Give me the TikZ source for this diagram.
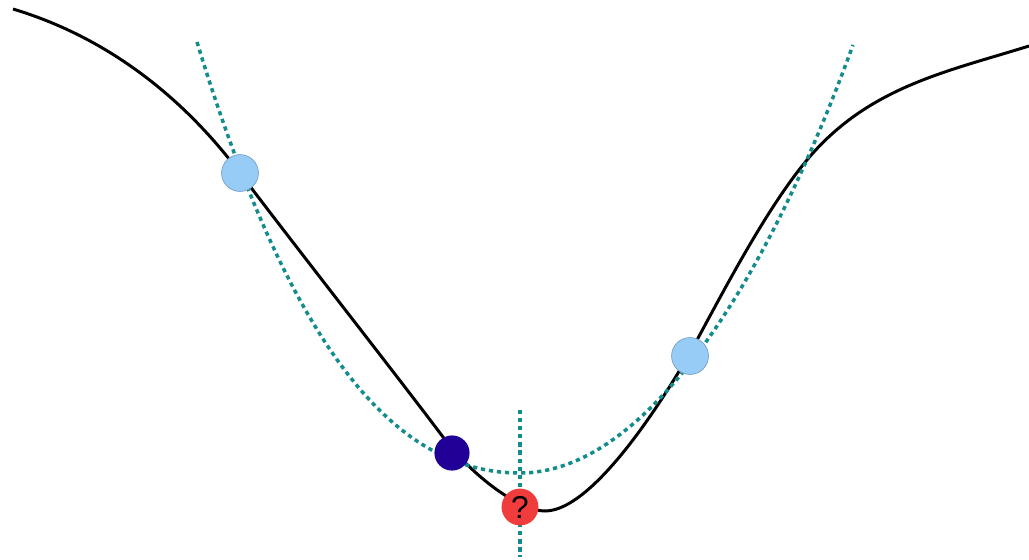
\documentclass[tikz,border=0pt]{standalone}
\usepackage{fontspec}
\setmainfont{Liberation Sans}
\begin{document}
\begin{tikzpicture}[x=0.02cm,y=-0.02cm,
  fcurve/.style={line width=1.7pt,black},
  approx/.style={line width=2pt,color=tealc,dash pattern=on 2.4pt off 2.2pt},
  sample/.style={circle,draw=bordc,line width=0.4pt,fill=lightc,minimum size=21pt,inner sep=0pt},
  current/.style={circle,draw=none,fill=darkc,minimum size=20pt,inner sep=0pt},
  guess/.style={circle,draw=none,fill=redc,minimum size=21pt,inner sep=0pt,font=\fontsize{18}{18}\selectfont}
]
\definecolor{tealc}{RGB}{20,140,140}
\definecolor{lightc}{RGB}{150,204,245}
\definecolor{bordc}{RGB}{120,160,200}
\definecolor{darkc}{RGB}{32,0,150}
\definecolor{redc}{RGB}{240,60,60}
\useasboundingbox (0,0) rectangle (1029,559);
% true function
\draw[fcurve] (13,9) .. controls (103,36) and (180,93) .. (240,173)
  .. controls (285,233) and (398,377) .. (443,437)
  .. controls (473,477) and (520,511) .. (545,511)
  .. controls (595,511) and (670,390) .. (697,340)
  .. controls (732,275) and (773,198) .. (813,153)
  .. controls (873,86) and (949,71) .. (1029,46);
% fitted parabola
\draw[approx] (197,42) .. controls (300,380) and (410,473) .. (520,473)
  .. controls (640,473) and (760,300) .. (853,45);
% vertical at minimum
\coordinate (vt) at (520,410);
\coordinate (vb) at (520,557);
\draw[approx] (vt) -- (vb);
% points
\node[sample] (p1) at (240,173) {};
\node[sample] (p2) at (690,356) {};
\node[current] (p3) at (452,453) {};
\node[guess] (p4) at (520,507) {?};
\end{tikzpicture}
\end{document}
